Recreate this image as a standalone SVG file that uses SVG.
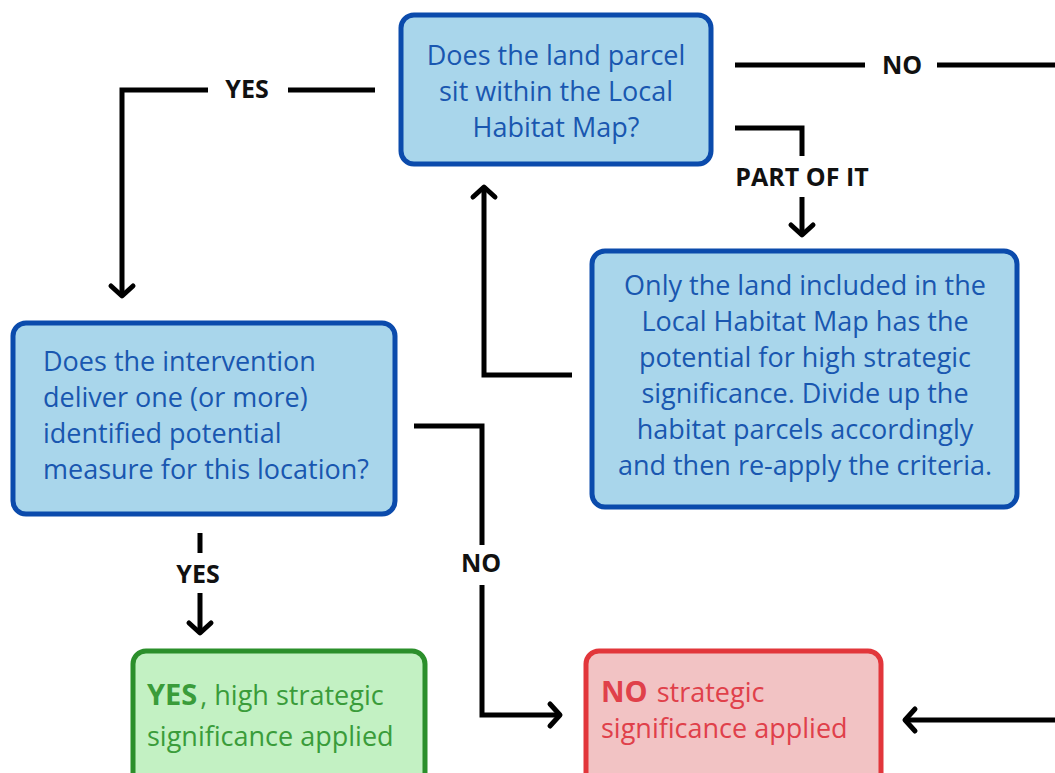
<svg xmlns="http://www.w3.org/2000/svg" width="1055" height="773" viewBox="0 0 1055 773">
<defs>
<style>
.bx{fill:#a9d6eb;stroke:#0b4bac;stroke-width:5}
.gb{fill:#c3f1c3;stroke:#2b8f2b;stroke-width:5}
.rb{fill:#f2c3c4;stroke:#e2363b;stroke-width:5}
.t{font-family:"Open Sans","Liberation Sans",sans-serif;font-size:27px;fill:#1957b0}
.gt{font-family:"Open Sans","Liberation Sans",sans-serif;font-size:27px;fill:#3a9c3a}
.rt{font-family:"Open Sans","Liberation Sans",sans-serif;font-size:27px;fill:#e0404a}
.lb{font-family:"Open Sans","Liberation Sans",sans-serif;font-size:25px;font-weight:bold;fill:#111}
.ln{fill:none;stroke:#000;stroke-width:5}
</style>
<marker id="ah" markerWidth="30" markerHeight="30" refX="15" refY="15" orient="auto" markerUnits="userSpaceOnUse">
<path d="M5,4 L15,15 L5,26" fill="none" stroke="#000" stroke-width="5" stroke-linecap="round" stroke-linejoin="round"/>
</marker>
</defs>
<rect width="1055" height="773" fill="#fff"/>
<g id="connectors">
<path class="ln" d="M375,90 H288"/>
<path class="ln" d="M208,90 H122 V296" marker-end="url(#ah)"/>
<text class="lb" x="247" y="98" text-anchor="middle">YES</text>
<path class="ln" d="M735,65 H865"/>
<path class="ln" d="M937,65 H1055"/>
<text class="lb" x="902" y="74" text-anchor="middle">NO</text>
<path class="ln" d="M735,128 H802 V156"/>
<text class="lb" x="802" y="186" text-anchor="middle">PART OF IT</text>
<path class="ln" d="M802,197 V235" marker-end="url(#ah)"/>
<path class="ln" d="M572,375 H484 V187" marker-end="url(#ah)"/>
<path class="ln" d="M414,426 H482 V545"/>
<text class="lb" x="481" y="572" text-anchor="middle">NO</text>
<path class="ln" d="M482,585 V715 H560" marker-end="url(#ah)"/>
<path class="ln" d="M200,533 V553"/>
<text class="lb" x="198" y="583" text-anchor="middle">YES</text>
<path class="ln" d="M200,593 V633" marker-end="url(#ah)"/>
<path class="ln" d="M1055,720 H905" marker-end="url(#ah)"/>
</g>
<g id="q1">
<rect class="bx" x="401" y="15" width="310" height="149" rx="13"/>
<text class="t" text-anchor="middle"><tspan x="556" y="65">Does the land parcel</tspan><tspan x="556" y="101">sit within the Local</tspan><tspan x="556" y="137">Habitat Map?</tspan></text>
</g>
<g id="partial">
<rect class="bx" x="592" y="251" width="425" height="256" rx="13"/>
<text class="t" text-anchor="middle"><tspan x="805" y="295">Only the land included in the</tspan><tspan x="805" y="331">Local Habitat Map has the</tspan><tspan x="805" y="367">potential for high strategic</tspan><tspan x="805" y="403">significance. Divide up the</tspan><tspan x="805" y="439">habitat parcels accordingly</tspan><tspan x="805" y="475">and then re-apply the criteria.</tspan></text>
</g>
<g id="q2">
<rect class="bx" x="13" y="323" width="382" height="191" rx="13"/>
<text class="t"><tspan x="43" y="371">Does the intervention</tspan><tspan x="43" y="407">deliver one (or more)</tspan><tspan x="43" y="443">identified potential</tspan><tspan x="43" y="479">measure for this location?</tspan></text>
</g>
<g id="yes">
<rect class="gb" x="133" y="651" width="292" height="140" rx="13"/>
<text class="gt"><tspan x="147" y="705"><tspan font-weight="bold" font-size="29">YES</tspan><tspan dx="3">, high strategic</tspan></tspan><tspan x="147" y="746">significance applied</tspan></text>
</g>
<g id="no">
<rect class="rb" x="586" y="651" width="295" height="140" rx="13"/>
<text class="rt"><tspan x="601" y="702"><tspan font-weight="bold" font-size="29">NO</tspan><tspan dx="9">strategic</tspan></tspan><tspan x="601" y="738">significance applied</tspan></text>
</g>
</svg>
